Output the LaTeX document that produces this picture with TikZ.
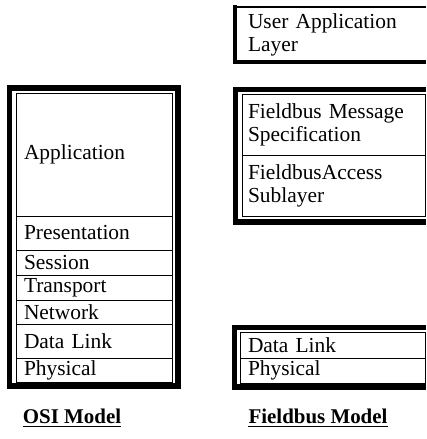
\documentclass[tikz,border=0pt]{standalone}
\usepackage{fontspec}
\setmainfont{Liberation Serif}
\tikzset{layer/.style={draw,line width=0.8bp,outer sep=0pt,anchor=north west,inner xsep=8bp,inner ysep=0pt,align=left,font=\fontsize{21.5}{23}\selectfont}}
\tikzset{osirow/.style={layer,text width=140bp}}
\tikzset{band/.style={line width=5.5bp}}
\tikzset{caption/.style={anchor=base,inner sep=0pt,font=\fontsize{21}{24}\selectfont\bfseries}}

\begin{document}
\begin{tikzpicture}[x=1bp,y=-1bp]
        \useasboundingbox (0,0) rectangle (426,439);

        % OSI stack
        \node[osirow,minimum height=123bp] (app) at (16,93) {Application};
        \node[osirow,minimum height=34bp] (pres) at (16,216) {Presentation};
        \node[osirow,minimum height=25bp] (sess) at (16,250) {Session};
        \node[osirow,minimum height=25bp] (trans) at (16,275) {Transport};
        \node[osirow,minimum height=24bp] (net) at (16,300) {Network};
        \node[osirow,minimum height=34bp] (dlink) at (16,324) {Data Link};
        \node[osirow,minimum height=24bp] (phys) at (16,358) {Physical};
        \draw[band] ([shift={(-6.5bp,5bp)}]app.north west) rectangle ([shift={(6bp,-4bp)}]phys.south east);

        % Fieldbus stack
        \node[layer,draw=none,text width=165bp,inner xsep=13bp,minimum height=55bp] (ual) at (235,7) {User Application\\Layer};
        \draw[line width=2.5bp] (ual.north east) -- (ual.north west);
        \draw[line width=3.5bp] (ual.south west) -- (ual.south east);
        \draw[line width=4.5bp] ([yshift=1.5bp]ual.north west) -- ([yshift=-2bp]ual.south west);

        \node[layer,text width=171bp,inner xsep=6bp,minimum height=61bp] (fms) at (242,94) {Fieldbus Message\\Specification};
        \node[layer,text width=171bp,inner xsep=6bp,minimum height=61bp] (fas) at (242,155) {FieldbusAccess\\Sublayer};
        \draw[band] ([shift={(1bp,4.5bp)}]fms.north east) -| ([xshift=-6.5bp]fms.west) |- ([shift={(1bp,-6bp)}]fas.south east);

        \node[layer,text width=169bp,minimum height=26bp] (fdlink) at (240,332) {Data Link};
        \node[layer,text width=169bp,minimum height=25bp] (fphys) at (240,358) {Physical};
        \draw[band] ([shift={(1bp,4.5bp)}]fdlink.north east) -| ([xshift=-5.5bp]fdlink.west) |- ([shift={(1bp,-4bp)}]fphys.south east);

        % captions
        \node[caption] (osi) at (72,423) {OSI Model};
        \node[caption] (fbm) at (318,423) {Fieldbus Model};
        \draw[line width=1.6bp] ([yshift=-3.5bp]osi.base west) -- ([yshift=-3.5bp]osi.base east);
        \draw[line width=1.6bp] ([yshift=-3.5bp]fbm.base west) -- ([yshift=-3.5bp]fbm.base east);
\end{tikzpicture}
\end{document}
